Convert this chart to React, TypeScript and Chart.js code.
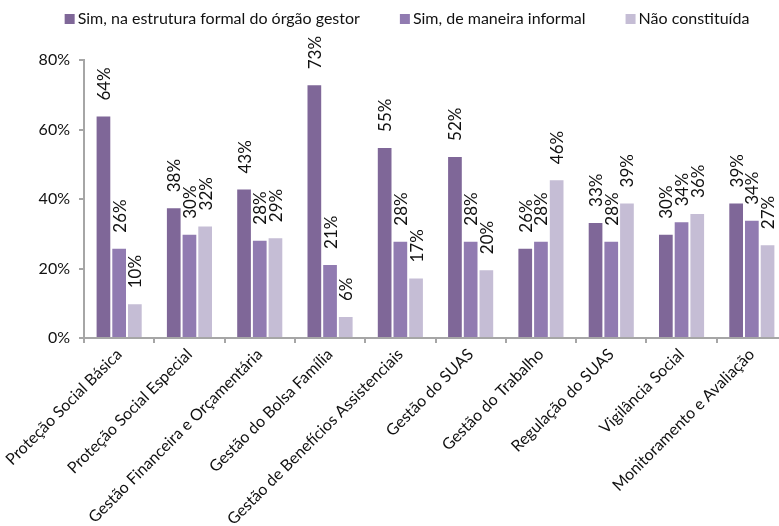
import React, { useEffect, useRef } from 'react';
import { Chart, registerables } from 'chart.js';

Chart.register(...registerables);

const categories = [
  'Proteção Social Básica',
  'Proteção Social Especial',
  'Gestão Financeira e Orçamentária',
  'Gestão do Bolsa Família',
  'Gestão de Benefícios Assistenciais',
  'Gestão do SUAS',
  'Gestão do Trabalho',
  'Regulação do SUAS',
  'Vigilância Social',
  'Monitoramento e Avaliação',
];
const seriesNames = [
  'Sim, na estrutura formal do órgão gestor',
  'Sim, de maneira informal',
  'Não constituída',
];
const formal = [64, 37.6, 43, 73, 55, 52.4, 26, 33.4, 30, 39];
const informal = [26, 30, 28.3, 21.3, 28, 28, 28, 28, 33.6, 34];
const naoConstituida = [10, 32.4, 29, 6.3, 17.4, 19.8, 45.7, 39, 36, 27];
const yMin = 0;
const yMax = 80;
const yStep = 20;

const colors = ['#7F6798', '#917BB1', '#C5BDD5'];
const FONT = 'Lato, "Open Sans", sans-serif';

const dataLabels = {
  id: 'dataLabels',
  afterDatasetsDraw(chart: any) {
    const ctx = chart.ctx;
    ctx.save();
    ctx.font = `17px ${FONT}`;
    ctx.fillStyle = '#111';
    ctx.textAlign = 'left';
    ctx.textBaseline = 'middle';
    chart.data.datasets.forEach((ds: any, i: number) => {
      const meta = chart.getDatasetMeta(i);
      meta.data.forEach((bar: any, j: number) => {
        const v = ds.data[j];
        ctx.save();
        ctx.translate(bar.x + 1, bar.y - 15);
        ctx.rotate(-Math.PI / 2);
        ctx.fillText(Math.round(v) + '%', 0, 0);
        ctx.restore();
      });
    });
    ctx.restore();
  },
};

const topLegend = {
  id: 'topLegend',
  afterDraw(chart: any) {
    const ctx = chart.ctx;
    ctx.save();
    ctx.font = `16px ${FONT}`;
    ctx.textBaseline = 'middle';
    ctx.textAlign = 'left';
    const box = 10;
    const gapText = 3;
    const gapItem = 40;
    const items = chart.data.datasets.map((ds: any) => ({ text: ds.label, color: ds.backgroundColor }));
    const widths = items.map((it: any) => box + gapText + ctx.measureText(it.text).width);
    const total = widths.reduce((a: number, b: number) => a + b, 0) + gapItem * (items.length - 1);
    let x = 407 - total / 2;
    const cy = 19;
    items.forEach((it: any, i: number) => {
      ctx.fillStyle = it.color;
      ctx.fillRect(x, cy - box / 2, box, box);
      ctx.fillStyle = '#111';
      ctx.fillText(it.text, x + box + gapText, cy);
      x += widths[i] + gapItem;
    });
    ctx.restore();
  },
};

export default function App() {
  const ref = useRef<HTMLCanvasElement | null>(null);
  useEffect(() => {
    if (!ref.current) return;
    const axisColor = '#A6A6A6';
    const chart = new Chart(ref.current, {
      type: 'bar',
      data: {
        labels: categories,
        datasets: [formal, informal, naoConstituida].map((d, i) => ({
          label: seriesNames[i],
          data: d,
          backgroundColor: colors[i],
          borderColor: 'rgba(255,255,255,0.45)',
          borderWidth: 1,
          categoryPercentage: 0.67,
          barPercentage: 1,
        })),
      },
      options: {
        animation: false,
        responsive: true,
        maintainAspectRatio: false,
        layout: { padding: { top: 60, left: 0, right: 0, bottom: 0 } },
        plugins: {
          legend: { display: false },
          tooltip: { enabled: false },
        },
        scales: {
          x: {
            afterFit: (s: any) => { s.height = 188; },
            grid: { drawOnChartArea: false, tickLength: 5, color: axisColor, lineWidth: 2 },
            border: { color: axisColor, width: 2 },
            ticks: {
              autoSkip: false,
              maxRotation: 45,
              minRotation: 45,
              padding: 2,
              color: '#111',
              font: { family: FONT, size: 16 },
            },
          },
          y: {
            min: yMin,
            max: yMax,
            afterFit: (s: any) => { s.width = 84; },
            grid: { drawOnChartArea: false, tickLength: 5, color: axisColor, lineWidth: 2 },
            border: { color: axisColor, width: 2 },
            ticks: {
              stepSize: yStep,
              padding: 9,
              color: '#111',
              font: { family: FONT, size: 16 },
              callback: (v: any) => v + '%',
            },
          },
        },
      },
      plugins: [dataLabels, topLegend],
    });
    return () => chart.destroy();
  }, []);
  return (
    <div style={{ position: 'absolute', left: 0, top: 0, width: 779, height: 526, overflow: 'hidden', background: '#fff' }}>
      <div style={{ position: 'relative', width: 787, height: 526 }}>
        <canvas ref={ref} />
      </div>
    </div>
  );
}
